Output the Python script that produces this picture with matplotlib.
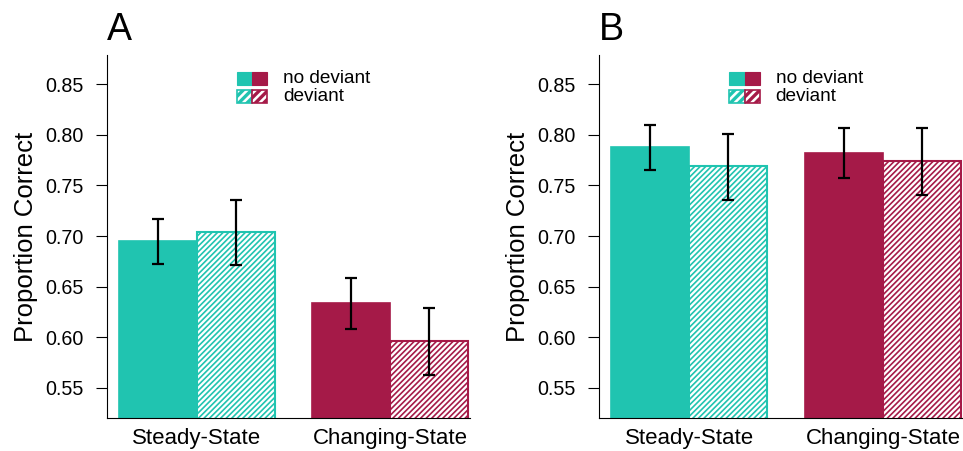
import matplotlib
matplotlib.use('Agg')
import matplotlib.pyplot as plt
from matplotlib.patches import Rectangle
import numpy as np

plt.rcParams['font.family'] = ['Liberation Sans', 'DejaVu Sans']
plt.rcParams['hatch.linewidth'] = 1.2

conditions = ["Steady-State", "Changing-State"]
panels = ["A", "B"]

# means: [no deviant, deviant] for each condition
means_A = [[0.695, 0.704], [0.634, 0.596]]
lower_A = [[0.672, 0.671], [0.608, 0.563]]
upper_A = [[0.717, 0.736], [0.659, 0.629]]

means_B = [[0.788, 0.769], [0.782, 0.774]]
lower_B = [[0.765, 0.736], [0.757, 0.741]]
upper_B = [[0.810, 0.801], [0.807, 0.807]]

teal = '#20c4b0'
crimson = '#a51a48'
cond_colors = [teal, crimson]

fig = plt.figure(figsize=(9.63, 4.51), dpi=100)
ax_pos = [[0.111, 0.073, 0.377, 0.805], [0.622, 0.073, 0.378, 0.805]]

data = [(means_A, lower_A, upper_A), (means_B, lower_B, upper_B)]

group_gap = 2.48
axes = []
for p, (means, lo, hi) in enumerate(data):
    ax = fig.add_axes(ax_pos[p])
    axes.append(ax)
    for c in range(2):
        for d in range(2):
            x = c * group_gap + d
            m = means[c][d]
            if d == 0:
                ax.bar(x, m, width=1.0, color=cond_colors[c], edgecolor=cond_colors[c], linewidth=1.2)
            else:
                ax.bar(x, m, width=1.0, color='white', edgecolor=cond_colors[c], hatch='//////', linewidth=1.5)
            ax.errorbar(x, m, yerr=[[m - lo[c][d]], [hi[c][d] - m]], color='black',
                        elinewidth=1.6, capsize=4.5, capthick=1.6, zorder=5)

    ax.set_xlim(-0.654, 4.0)
    ax.set_ylim(0.520, 0.879)
    ax.set_yticks([0.55, 0.60, 0.65, 0.70, 0.75, 0.80, 0.85])
    ax.set_yticklabels(["%.2f" % v for v in [0.55, 0.60, 0.65, 0.70, 0.75, 0.80, 0.85]])
    ax.set_xticks([0.5, group_gap + 0.5])
    ax.set_xticklabels(conditions)
    ax.tick_params(axis='x', length=0, pad=7.5, labelsize=16)
    ax.tick_params(axis='y', length=8, width=0.8, pad=9, labelsize=14.2)
    ax.spines['top'].set_visible(False)
    ax.spines['right'].set_visible(False)
    ax.spines['left'].set_linewidth(0.8)
    ax.spines['bottom'].set_linewidth(0.8)
    ax.set_ylabel("Proportion Correct", fontsize=18.5, labelpad=5)

    ax.text(0.0, 1.041, panels[p], transform=ax.transAxes, fontsize=27, va='baseline', ha='left')

# legend made of swatches (thicker hatch lines for the small boxes)
plt.rcParams['hatch.linewidth'] = 2.4
sw = 0.042
for ax in axes:
    for c in range(2):
        ax.add_patch(Rectangle((0.358 + c * sw, 0.917), sw, 0.036, transform=ax.transAxes,
                               facecolor=cond_colors[c], edgecolor=cond_colors[c], linewidth=0.8,
                               clip_on=False))
        ax.add_patch(Rectangle((0.358 + c * sw, 0.868), sw, 0.036, transform=ax.transAxes,
                               facecolor='white', edgecolor=cond_colors[c], hatch='////',
                               linewidth=1.2, clip_on=False))
    ax.text(0.485, 0.935, "no deviant", transform=ax.transAxes, fontsize=13.7, va='center')
    ax.text(0.485, 0.886, "deviant", transform=ax.transAxes, fontsize=13.7, va='center')

plt.savefig("out.png", dpi=100)
